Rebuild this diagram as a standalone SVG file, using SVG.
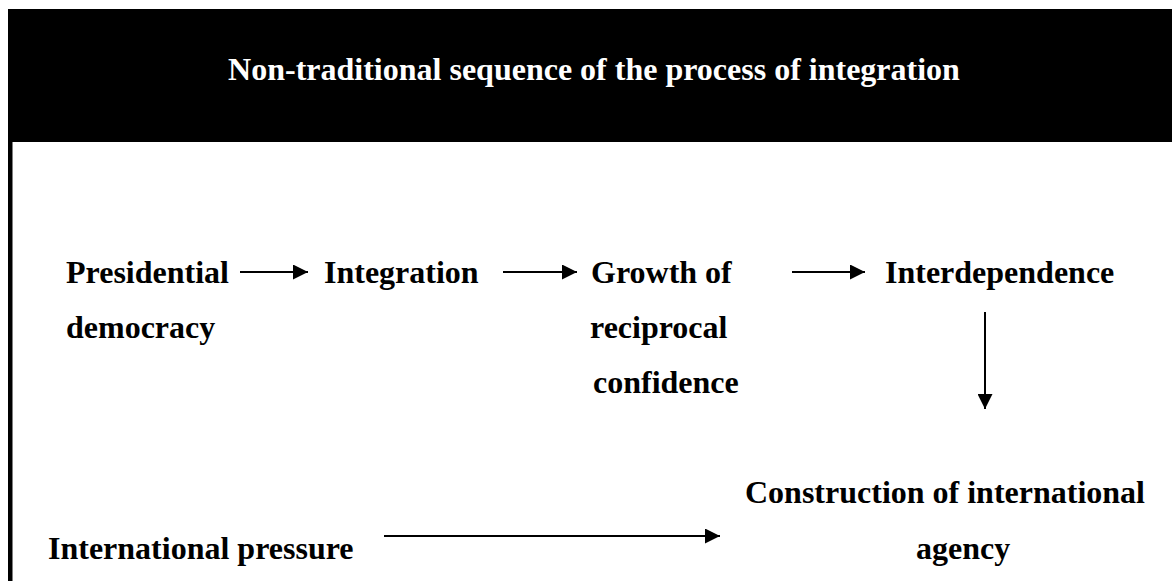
<svg xmlns="http://www.w3.org/2000/svg" width="1172" height="581" viewBox="0 0 1172 581">
  <style>
    .t { font-family: "Liberation Serif", "Times New Roman", serif; font-weight: bold; font-size: 32px; fill: #000; }
    .title { font-family: "Liberation Serif", "Times New Roman", serif; font-weight: bold; font-size: 32px; fill: #fff; }
    .conn { stroke: #000; stroke-width: 2; fill: none; marker-end: url(#ah); }
  </style>
  <defs>
    <marker id="ah" markerUnits="userSpaceOnUse" markerWidth="15" markerHeight="15" refX="15" refY="7.5" orient="auto">
      <path d="M0,0 L15,7.5 L0,15 Z" fill="#000"/>
    </marker>
  </defs>
  <rect x="0" y="0" width="1172" height="581" fill="#fff"/>
  <g id="header">
    <rect x="8" y="9" width="1164" height="133" fill="#000"/>
    <text class="title" x="594" y="80" text-anchor="middle">Non-traditional sequence of the process of integration</text>
  </g>
  <rect id="left-border" x="8" y="142" width="4.5" height="439" fill="#000"/>
  <g id="node-presidential">
    <text class="t" x="66" y="283">Presidential</text>
    <text class="t" x="66" y="338">democracy</text>
  </g>
  <g id="node-integration">
    <text class="t" x="324" y="283">Integration</text>
  </g>
  <g id="node-growth">
    <text class="t" x="591" y="283">Growth of</text>
    <text class="t" x="590" y="338">reciprocal</text>
    <text class="t" x="593" y="393">confidence</text>
  </g>
  <g id="node-interdependence">
    <text class="t" x="885" y="283">Interdependence</text>
  </g>
  <g id="node-construction">
    <text class="t" x="745" y="503">Construction of international</text>
    <text class="t" x="916" y="559">agency</text>
  </g>
  <g id="node-pressure">
    <text class="t" x="48" y="559">International pressure</text>
  </g>
  <g id="connectors">
    <line class="conn" x1="240" y1="272" x2="308" y2="272"/>
    <line class="conn" x1="503" y1="272" x2="577" y2="272"/>
    <line class="conn" x1="792" y1="272" x2="865" y2="272"/>
    <line class="conn" x1="985" y1="312" x2="985" y2="409"/>
    <line class="conn" x1="384" y1="536" x2="720" y2="536"/>
  </g>
</svg>
